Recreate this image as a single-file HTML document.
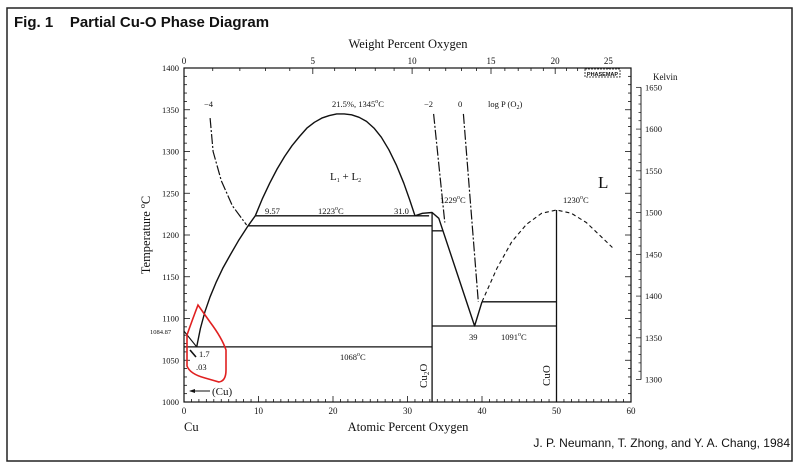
<!DOCTYPE html>
<html><head><meta charset="utf-8"><style>
html,body{margin:0;padding:0;background:#fff;width:800px;height:476px;overflow:hidden}
svg{display:block}
text{font-family:"Liberation Serif",serif;fill:#111}
.s{font-family:"Liberation Sans",sans-serif}
</style></head><body>
<svg id="c" width="800" height="476" viewBox="0 0 800 476">
<rect x="7" y="8" width="785" height="453" fill="none" stroke="#222" stroke-width="1.5"/>
<text class="s" x="14" y="27" font-size="15" font-weight="bold">Fig. 1&#160;&#160;&#160;&#160;Partial Cu-O Phase Diagram</text>
<text class="s" x="790" y="447" font-size="12" text-anchor="end">J. P. Neumann, T. Zhong, and Y. A. Chang, 1984</text>
<g id="plot"></g>
</svg>
<script>
// data (atomic % O, temperature °C)
const atTicks=[0,10,20,30,40,50,60];
const wtTicks=[0,5,10,15,20,25];
const tTicks=[1000,1050,1100,1150,1200,1250,1300,1350,1400];
const kTicks=[1300,1350,1400,1450,1500,1550,1600,1650];
const domeCurve=[[9.57,1223],[10.5,1243],[11.5,1262],[12.5,1279],[13.5,1294],[14.5,1307],[15.5,1318],[16.5,1328],[17.5,1335],[18.5,1340],[19.5,1343],[20.5,1345],[21.5,1345],[22.5,1344],[23.5,1341],[24.5,1336],[25.5,1328],[26.5,1317],[27.5,1302],[28.5,1284],[29.5,1262],[30.3,1242],[31,1223]];
const cuLiquidus=[[1.7,1066],[2.2,1088],[2.8,1108],[3.5,1126],[4.3,1143],[5.2,1160],[6.2,1176],[7.3,1193],[8.6,1211],[9.57,1223]];
const cuSolidus=[[0,1084.87],[1.7,1066]];
const cu2oLiq=[[31,1223],[32,1226],[33.3,1227],[34.2,1220],[39,1091],[40,1120]];
const cuoLiq=[[40,1120],[42,1160],[44,1192],[46,1213],[48,1226],[50,1230],[52,1226],[54,1215],[56,1198],[57.5,1185]];
const isoM4=[[3.5,1340],[3.9,1300],[5,1265],[6.5,1235],[8.4,1212]];
const isoM2=[[33.5,1345],[35,1215]];
const iso0=[[37.5,1345],[39.5,1120]];
const hLines=[[[9.57,32.9],1223],[[8.6,33.3],1211],[[0,33.3],1066],[[33.3,50],1091],[[40,50],1120],[[33.3,34.8],1205]];
const vLines=[[33.3,1000,1227],[50,1000,1230]];

const x0=184,x1=631,y0=402,y1=68;
const X=a=>x0+(a/60)*(x1-x0);
const Y=t=>y0-(t-1000)/400*(y0-y1);
const wtToAt=w=>(w/16)/((w/16)+(100-w)/63.55)*100;
const NS="http://www.w3.org/2000/svg";
const g=document.getElementById('plot');
function mk(tag,at,name){const e=document.createElementNS(NS,tag);for(const k in at)e.setAttribute(k,at[k]);


g.appendChild(e);return e;}
function txt(x,y,s,sz,name,extra){const e=mk('text',Object.assign({x:x,y:y,'font-size':sz},extra||{}),name);e.innerHTML=s;return e;}
function poly(pts,name,dash,w){return mk('polyline',{points:pts.map(p=>X(p[0]).toFixed(1)+','+Y(p[1]).toFixed(1)).join(' '),fill:'none',stroke:'#111','stroke-width':w||1.4,'stroke-dasharray':dash||'none','stroke-linejoin':'round'},name);}

mk('rect',{x:x0,y:y1,width:x1-x0,height:y0-y1,fill:'none',stroke:'#111','stroke-width':1.2},'plot-frame');
for(let a=0;a<=60;a++){const big=a%10===0;
mk('line',{x1:X(a),x2:X(a),y1:y0,y2:y0-(big?6:3),stroke:'#111','stroke-width':0.8},'x-tick');}
atTicks.forEach(a=>txt(X(a),y0+12,a,9,'x-tick-label',{'text-anchor':'middle'}));
for(let w=0;w<=26;w++){const big=w%5===0;
mk('line',{x1:X(wtToAt(w)),x2:X(wtToAt(w)),y1:y1,y2:y1+(big?6:3),stroke:'#111','stroke-width':0.8},'top-tick');}
wtTicks.forEach(w=>txt(X(wtToAt(w)),y1-4,w,9,'top-tick-label',{'text-anchor':'middle'}));
for(let t=1000;t<=1400;t+=10){const big=t%50===0;
mk('line',{x1:x0,x2:x0+(big?6:3),y1:Y(t),y2:Y(t),stroke:'#111','stroke-width':0.8},'y-tick');
mk('line',{x1:x1,x2:x1-(big?6:3),y1:Y(t),y2:Y(t),stroke:'#111','stroke-width':0.8},'y-tick-right');}
tTicks.forEach(t=>txt(x0-5,Y(t)+3,t,8.5,'y-tick-label',{'text-anchor':'end'}));
const kx=641;
mk('line',{x1:kx,x2:kx,y1:Y(1376.85),y2:Y(1026.85),stroke:'#111','stroke-width':0.9},'kelvin-axis');
for(let k=1300;k<=1650;k+=10){mk('line',{x1:kx,x2:kx-(k%50===0?5:2.5),y1:Y(k-273.15),y2:Y(k-273.15),stroke:'#111','stroke-width':0.7},'kelvin-tick');}
kTicks.forEach(k=>txt(kx+4,Y(k-273.15)+3,k,8.5,'kelvin-tick-label'));
txt(653,80,'Kelvin',9,'kelvin-title');
txt(408,48,'Weight Percent Oxygen',12.5,'top-axis-title',{'text-anchor':'middle'});
txt(408,431,'Atomic Percent Oxygen',12.5,'x-axis-title',{'text-anchor':'middle'});
txt(184,431,'Cu',12.5,'cu-label');
txt(150,235,'Temperature <tspan font-size="8" dy="-5">o</tspan><tspan dy="5">C</tspan>',12.5,'y-axis-title',{'text-anchor':'middle',transform:'rotate(-90 150 235)'});
mk('rect',{x:585,y:69,width:35,height:8,fill:'#fff',stroke:'#111','stroke-width':0.8,'stroke-dasharray':'2 1'},'phasemap-badge');
txt(602.5,76,'PHASEMAP',5.5,'phasemap-text',{'text-anchor':'middle',class:'s','font-weight':'bold'});

poly(domeCurve,'miscibility-dome');
poly(cuLiquidus,'cu-liquidus');
poly(cuSolidus,'cu-solidus',null,1.1);
poly(cu2oLiq,'cu2o-liquidus');
poly(cuoLiq,'cuo-liquidus-dashed','4 3',1.1);
poly(isoM4,'isobar-minus4','10 2 2 2',1.2);
poly(isoM2,'isobar-minus2','10 2 2 2',1.2);
poly(iso0,'isobar-0','10 2 2 2',1.2);
hLines.forEach(h=>mk('line',{x1:X(h[0][0]),x2:X(h[0][1]),y1:Y(h[1]),y2:Y(h[1]),stroke:'#111','stroke-width':1.3},'isotherm-'+h[1]));
vLines.forEach(v=>mk('line',{x1:X(v[0]),x2:X(v[0]),y1:Y(v[1]),y2:Y(v[2]),stroke:'#111','stroke-width':1.3},'compound-line'));

const sm=8.5;
txt(204,107,'−4',sm,'label-minus4');
txt(332,107,'21.5%, 1345<tspan font-size="6" dy="-4">o</tspan><tspan dy="4">C</tspan>',sm,'label-dome-max');
txt(424,107,'−2',sm,'label-minus2');
txt(458,107,'0',sm,'label-0');
txt(488,107,'log P (O<tspan font-size="6" dy="2">2</tspan><tspan dy="-2">)</tspan>',sm,'label-logp');
txt(330,180,'L<tspan font-size="6" dy="2">1</tspan><tspan dy="-2"> + L</tspan><tspan font-size="6" dy="2">2</tspan>',11,'label-l1l2');
txt(598,188,'L',17,'label-liquid');
txt(265,214,'9.57',sm,'label-957');
txt(318,214,'1223<tspan font-size="6" dy="-4">o</tspan><tspan dy="4">C</tspan>',sm,'label-1223');
txt(394,214,'31.0',sm,'label-310');
txt(440,203,'1229<tspan font-size="6" dy="-4">o</tspan><tspan dy="4">C</tspan>',sm,'label-1229');
txt(563,203,'1230<tspan font-size="6" dy="-4">o</tspan><tspan dy="4">C</tspan>',sm,'label-1230');
txt(150,334,'1084.87',6.5,'label-108487');
txt(199,357,'1.7',sm,'label-17');
txt(196,370,'.03',sm,'label-003');
mk('line',{x1:190,x2:196,y1:350,y2:357,stroke:'#111','stroke-width':1.6},'arrow-003');
txt(340,360,'1068<tspan font-size="6" dy="-4">o</tspan><tspan dy="4">C</tspan>',sm,'label-1068');
txt(469,340,'39',sm,'label-39');
txt(501,340,'1091<tspan font-size="6" dy="-4">o</tspan><tspan dy="4">C</tspan>',sm,'label-1091');
mk('line',{x1:190,x2:210,y1:391,y2:391,stroke:'#111','stroke-width':1},'cu-arrow-line');
mk('polygon',{points:'189,391 195,389 195,393',fill:'#111'},'cu-arrow-head');
txt(212,395,'(Cu)',11,'label-cu-phase');
txt(0,0,'Cu<tspan font-size="7" dy="2">2</tspan><tspan dy="-2">O</tspan>',11,'label-cu2o',{transform:'translate(427 388) rotate(-90)'});
txt(0,0,'CuO',11,'label-cuo',{transform:'translate(550 386) rotate(-90)'});
mk('path',{d:'M198,305 Q193,318 187,335 L187,366 Q190,374 205,378 L219,382 Q226,381 226,370 L226,350 Q222,338 210,322 Z',fill:'none',stroke:'#e02020','stroke-width':1.6},'red-annotation-loop');
</script>
</body></html>
